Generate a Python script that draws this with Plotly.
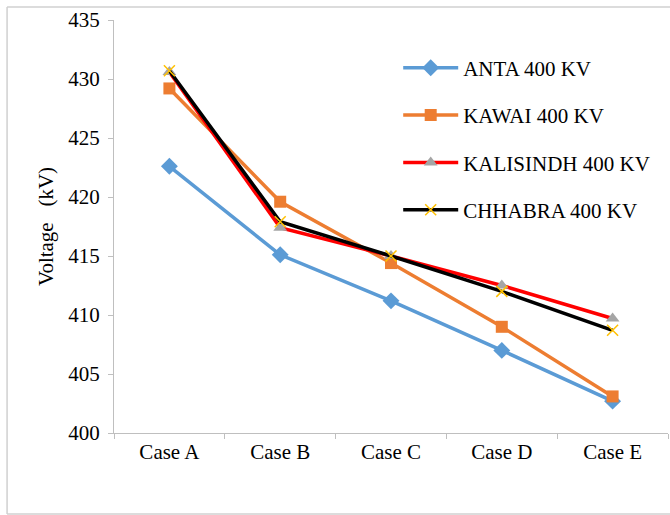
import plotly.graph_objects as go

categories = ["Case A", "Case B", "Case C", "Case D", "Case E"]
anta = [422.6, 415.1, 411.2, 407.0, 402.7]
kawai = [429.2, 419.6, 414.4, 409.0, 403.1]
kalisindh = [430.6, 417.4, 415.0, 412.5, 409.7]
chhabra = [430.7, 417.9, 415.0, 412.0, 408.7]
y_ticks = [400, 405, 410, 415, 420, 425, 430, 435]

FONT = "Liberation Serif, Times New Roman, serif"

fig = go.Figure()
fig.add_trace(go.Scatter(x=categories, y=anta, name="ANTA 400 KV", mode="lines+markers",
                         line=dict(color="#5B9BD5", width=3.5),
                         marker=dict(symbol="diamond", size=13, color="#5B9BD5"),
                         legendgroup="a"))
fig.add_trace(go.Scatter(x=categories, y=kawai, name="KAWAI 400 KV", mode="lines+markers",
                         line=dict(color="#ED7D31", width=3.5),
                         marker=dict(symbol="square", size=12, color="#ED7D31"),
                         legendgroup="b"))
fig.add_trace(go.Scatter(x=categories, y=kalisindh, name="KALISINDH 400 KV", mode="lines+markers",
                         line=dict(color="#FF0000", width=3.5),
                         marker=dict(symbol="triangle-up", size=12, color="#A5A5A5"),
                         legendgroup="c"))
fig.add_trace(go.Scatter(x=categories, y=chhabra, name="CHHABRA 400 KV", mode="lines+markers",
                         line=dict(color="#000000", width=3.5),
                         marker=dict(symbol="x-thin", size=11, color="#FFC000",
                                     line=dict(color="#FFC000", width=1.5)),
                         legendgroup="d"))

fig.update_layout(
    width=670, height=515,
    margin=dict(l=114, r=2, t=20, b=82),
    paper_bgcolor="white", plot_bgcolor="white",
    font=dict(family=FONT, size=21, color="black"),
    showlegend=True,
    legend=dict(x=0.513, y=0.933, xanchor="left", yanchor="top",
                font=dict(family=FONT, size=21, color="black"),
                tracegroupgap=17, itemwidth=55, bgcolor="rgba(0,0,0,0)"),
    xaxis=dict(type="category", range=[-0.5, 4.5], showline=True, linecolor="#BFBFBF",
               linewidth=1, ticks="outside", tickson="boundaries", ticklen=5,
               tickcolor="#BFBFBF", showgrid=False, zeroline=False,
               tickfont=dict(family=FONT, size=21)),
    yaxis=dict(range=[400, 435], tickvals=y_ticks, showline=True, linecolor="#BFBFBF",
               linewidth=1, ticks="outside", ticklen=5, tickcolor="#BFBFBF",
               showgrid=False, zeroline=False, ticklabelstandoff=4,
               tickfont=dict(family=FONT, size=21),
               title=dict(text="Voltage\u00a0\u00a0\u00a0(kV)", font=dict(family=FONT, size=21), standoff=8)),
)

# outer chart frame (top, left and bottom edges visible)
frame = dict(color="#D0D0D0", width=1.5)
fig.add_shape(type="line", xref="paper", yref="paper", x0=-0.193, x1=-0.193, y0=-0.196, y1=1.0315, line=frame)
fig.add_shape(type="line", xref="paper", yref="paper", x0=-0.193, x1=1.1, y0=-0.196, y1=-0.196, line=frame)
fig.add_shape(type="line", xref="paper", yref="paper", x0=-0.193, x1=1.1, y0=1.0315, y1=1.0315, line=frame)

fig.write_html("out.html")
